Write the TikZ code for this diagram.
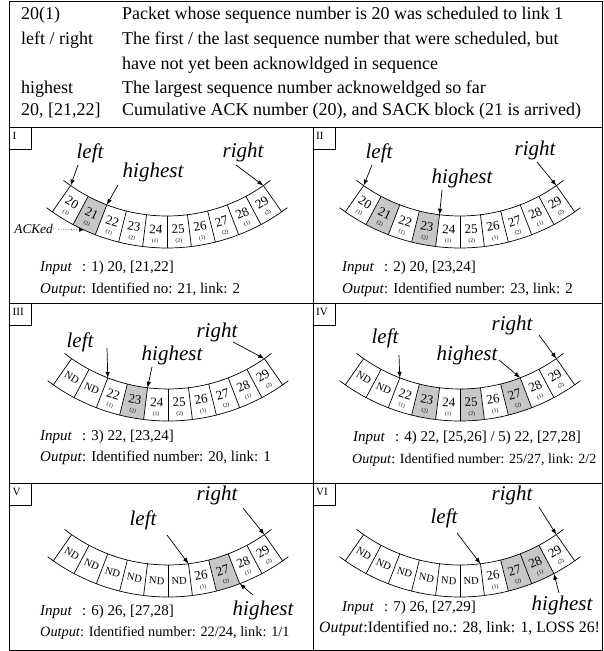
\documentclass[tikz,border=0pt]{standalone}
\usepackage{fontspec}
\setmainfont{Liberation Serif}
\usetikzlibrary{arrows.meta}

\definecolor{ackgray}{gray}{0.78}

\tikzset{
  frame/.style={line width=0.9pt},
  ring/.style={line width=0.7pt},
  lbl/.style={font=\fontsize{21}{21}\itshape\selectfont, inner sep=0pt},
  ptr/.style={line width=0.7pt, -{Latex[length=6pt,width=4.5pt]}},
  ackptr/.style={line width=0.6pt, dotted, -{Latex[length=5pt,width=4pt]}},
  numtext/.style={font=\fontsize{13}{13}\selectfont, inner sep=0pt},
  linktext/.style={font=\fontsize{5.5}{5.5}\selectfont, inner sep=0pt},
  ndtext/.style={font=\fontsize{10.5}{10.5}\selectfont, inner sep=0pt},
  io/.style={font=\fontsize{15}{15}\selectfont, anchor=base west, inner sep=0pt},
  hdr/.style={font=\fontsize{18}{18}\selectfont, anchor=base west, inner sep=0pt},
  tag/.style={font=\fontsize{11}{11}\selectfont, anchor=north west, inner sep=0pt},
}

% one band of 10 slots: #1 = number of ND slots, #2 = grey slots
\newcommand\band[2]{%
  \foreach \ci in {#2}{%
    \pgfmathsetmacro\ga{235+7*\ci}\pgfmathsetmacro\gb{\ga+7}%
    \fill[ackgray] (\ga:168) arc[start angle=\ga, end angle=\gb, radius=168]
      -- (\gb:200) arc[start angle=\gb, end angle=\ga, radius=200] -- cycle;}
  \draw[ring] (232:168) arc[start angle=232, end angle=308, radius=168];
  \draw[ring] (233:200) arc[start angle=233, end angle=307, radius=200];
  \foreach \ci in {0,...,10}{\pgfmathsetmacro\ang{235+7*\ci}\draw[ring] (\ang:168) -- (\ang:200);}
  \foreach \ci in {0,...,9}{%
    \pgfmathsetmacro\ang{238.5+7*\ci}%
    \ifnum\ci<#1
      \node[ndtext, rotate=\ang-270] at (\ang:184) {ND};
    \else
      \pgfmathtruncatemacro\cn{20+\ci}\pgfmathtruncatemacro\lk{1+mod(\ci,2)}%
      \node[numtext, rotate=\ang-270] at (\ang:181.5) {\cn};
      \node[linktext, rotate=\ang-270] at (\ang:193.5) {(\lk)};
    \fi}}

\begin{document}
\begin{tikzpicture}[x=1pt,y=1pt]
\useasboundingbox (0,0) rectangle (604,651);

% frame and grid
\draw[frame] (9.5,1) rectangle (602.5,650);
\draw[frame] (9.5,524) -- (602.5,524);
\draw[frame] (9.5,348) -- (602.5,348);
\draw[frame] (9.5,168) -- (602.5,168);
\draw[frame] (313,524) -- (313,1);

% legend
\node[hdr] (key1) at (21,631) {20(1)};
\node[hdr] (txt1) at (122,631) {Packet whose sequence number is 20 was scheduled to link 1};
\node[hdr] (key2) at (21,606) {left / right};
\node[hdr] (txt2) at (122,606) {The first / the last sequence number that were scheduled, but};
\node[hdr] (txt3) at (122,581) {have not yet been acknowldged in sequence};
\node[hdr] (key4) at (21,557) {highest};
\node[hdr] (txt4) at (122,557) {The largest sequence number acknoweldged so far};
\node[hdr] (key5) at (21,535) {20, [21,22]};
\node[hdr] (txt5) at (122,535) {Cumulative ACK number (20), and SACK block (21 is arrived)};

% panel tags
\foreach \x/\y/\t in {9.5/524/I, 313/524/II, 9.5/348/III, 313/348/IV, 9.5/168/V, 313/168/VI}{
  \draw[frame] (\x,\y) rectangle ++(22,-22);
  \node[tag] (tag\t) at (\x+3,\y-5) {\t};
}

% I
\begin{scope}[shift={(167,603)}]
  \band{0}{1}
  \coordinate (lftTip1) at (235:168);
  \coordinate (hiTip1) at (249:168);
  \coordinate (rtTip1) at (305:168);
  \coordinate (ackTip1) at (245.5:200);
\end{scope}
\node[lbl] (lft1) at (90,498) {left};
\node[lbl] (hi1) at (153,479) {highest};
\node[lbl] (rt1) at (243,499) {right};
\node[font=\fontsize{13.3}{13.3}\itshape\selectfont, inner sep=0pt, anchor=east] (ack1) at (53,422) {ACKed};
\draw[ptr] ([shift={(-12,-12)}]lft1.center) -- (lftTip1);
\draw[ptr] ([shift={(-35,-13)}]hi1.center) -- (hiTip1);
\draw[ptr] ([shift={(-7,-13)}]rt1.center) -- (rtTip1);
\draw[ackptr] (ack1.east) -- (ackTip1);
\node[io] (in1) at (40,379) {\textit{Input}\hspace{0.667em}: 1) 20, [21,22]};
\node[io] (out1) at (40,357) {\textit{Output}: Identified no: 21, link: 2};

% II
\begin{scope}[shift={(460,603)}]
  \band{0}{1,3}
  \coordinate (lftTip2) at (235:168);
  \coordinate (hiTip2) at (263:168);
  \coordinate (rtTip2) at (305:168);
\end{scope}
\node[lbl] (lft2) at (379,498) {left};
\node[lbl] (hi2) at (462,473) {highest};
\node[lbl] (rt2) at (535,501) {right};
\draw[ptr] ([shift={(-7,-12)}]lft2.center) -- (lftTip2);
\draw[ptr] ([shift={(-20,-12)}]hi2.center) -- (hiTip2);
\draw[ptr] ([shift={(2,-12)}]rt2.center) -- (rtTip2);
\node[io] (in2) at (342,379) {\textit{Input}\hspace{0.667em}: 2) 20, [23,24]};
\node[io] (out2) at (342,357) {\textit{Output}: Identified number: 23, link: 2};

% III
\begin{scope}[shift={(168,430)}]
  \band{2}{3}
  \coordinate (lftTip3) at (249:168);
  \coordinate (hiTip3) at (263:168);
  \coordinate (rtTip3) at (305:168);
\end{scope}
\node[lbl] (lft3) at (80,309) {left};
\node[lbl] (hi3) at (172,296) {highest};
\node[lbl] (rt3) at (217,319) {right};
\draw[ptr] ([shift={(27,-6)}]lft3.center) -- (lftTip3);
\draw[ptr] ([shift={(-20,-12)}]hi3.center) -- (hiTip3);
\draw[ptr] ([shift={(16,-10)}]rt3.center) -- (rtTip3);
\node[io] (in3) at (40,210) {\textit{Input}\hspace{0.667em}: 3) 22, [23,24]};
\node[io] (out3) at (40,189) {\textit{Output}: Identified number: 20, link: 1};

% IV
\begin{scope}[shift={(460,430)}]
  \band{2}{3,5,7}
  \coordinate (lftTip4) at (249:168);
  \coordinate (hiTip4) at (291:168);
  \coordinate (rtTip4) at (305:168);
\end{scope}
\node[lbl] (lft4) at (385,313) {left};
\node[lbl] (hi4) at (467,296) {highest};
\node[lbl] (rt4) at (512,326) {right};
\draw[ptr] ([shift={(14,-17)}]lft4.center) -- (lftTip4);
\draw[ptr] ([shift={(32,-5)}]hi4.center) -- (hiTip4);
\draw[ptr] ([shift={(27,-10)}]rt4.center) -- (rtTip4);
\node[io] (in4) at (353,209) {\textit{Input}\hspace{0.667em}: 4) 22, [25,26] / 5) 22, [27,28]};
\node[io, font=\fontsize{14}{14}\selectfont] (out4) at (352,187) {\textit{Output}: Identified number: 25/27, link: 2/2};

% V
\begin{scope}[shift={(168,254)}]
  \band{6}{7}
  \coordinate (lftTip5) at (277:168);
  \coordinate (hiTip5) at (291:200);
  \coordinate (rtTip5) at (305:168);
\end{scope}
\node[lbl] (rt5) at (217,156) {right};
\node[lbl] (lft5) at (143,131) {left};
\node[lbl] (hi5) at (263,41) {highest};
\draw[ptr] ([shift={(26,-13)}]rt5.center) -- (rtTip5);
\draw[ptr] ([shift={(24,-15)}]lft5.center) -- (lftTip5);
\draw[ptr] ([shift={(-10,15)}]hi5.center) -- (hiTip5);
\node[io] (in5) at (40,35) {\textit{Input}\hspace{0.667em}: 6) 26, [27,28]};
\node[io, font=\fontsize{14.3}{14.3}\selectfont] (out5) at (40,14) {\textit{Output}: Identified number: 22/24, link: 1/1};

% VI
\begin{scope}[shift={(460,254)}]
  \band{6}{7,8}
  \coordinate (lftTip6) at (277:168);
  \coordinate (hiTip6) at (298:200);
  \coordinate (rtTip6) at (305:168);
\end{scope}
\node[lbl] (rt6) at (512,156) {right};
\node[lbl] (lft6) at (444,133) {left};
\node[lbl] (hi6) at (562,46) {highest};
\draw[ptr] ([shift={(27,-12)}]rt6.center) -- (rtTip6);
\draw[ptr] ([shift={(13,-15)}]lft6.center) -- (lftTip6);
\draw[ptr] ([shift={(-3,12)}]hi6.center) -- (hiTip6);
\node[io] (in6) at (342,39) {\textit{Input}\hspace{0.667em}: 7) 26, [27,29]};
\node[io, font=\fontsize{15.8}{15.8}\selectfont] (out6) at (319,19) {\textit{Output}:Identified no.: 28, link: 1, LOSS 26!};
\end{tikzpicture}
\end{document}
